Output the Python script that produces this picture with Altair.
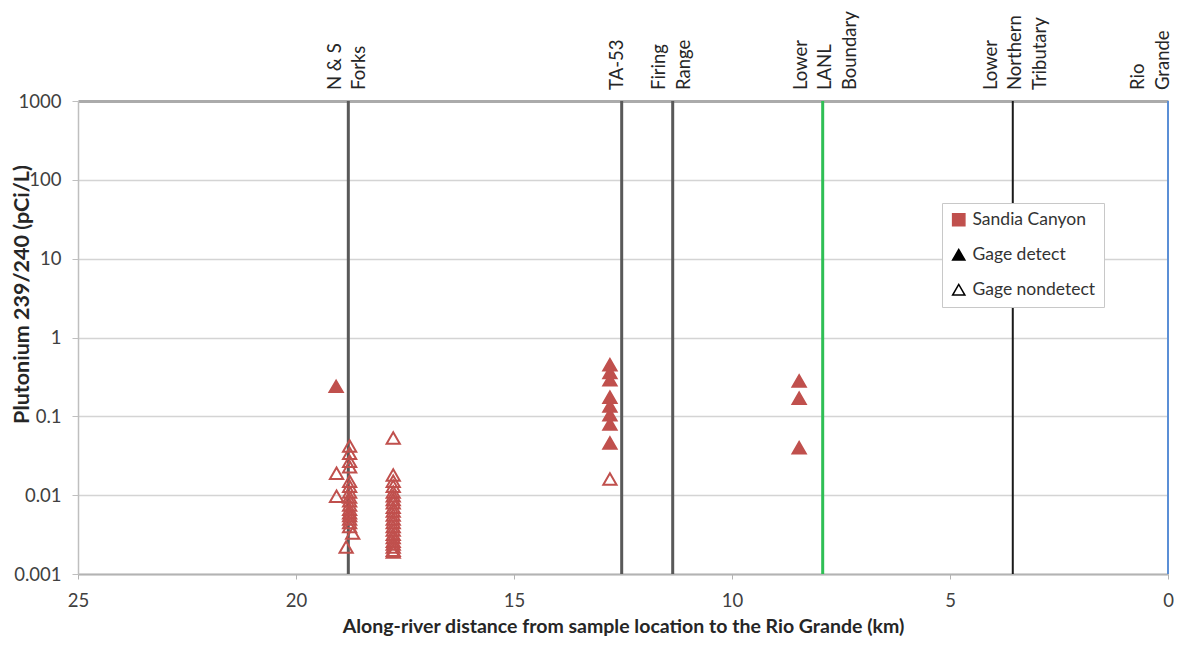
import altair as alt
import pandas as pd

# ---- data ----
detect_km = [19.08, 12.8, 12.8, 12.8, 12.8, 12.8, 12.8, 12.8, 12.8, 8.46, 8.46, 8.46]
detect_val = [0.24, 0.45, 0.36, 0.29, 0.175, 0.135, 0.105, 0.08, 0.046, 0.28, 0.17, 0.04]

nondetect_km = [19.07, 19.07,
                18.77, 18.77, 18.77, 18.77, 18.77, 18.77, 18.77, 18.77, 18.77, 18.77,
                18.77, 18.77, 18.77, 18.77, 18.77, 18.77, 18.7, 18.85,
                17.77, 17.77, 17.77, 17.77, 17.77, 17.77, 17.77, 17.77, 17.77, 17.77,
                17.77, 17.77, 17.77, 17.77, 17.77, 17.77, 17.77, 17.77, 17.77, 17.77,
                17.77, 17.77,
                12.8]
nondetect_val = [0.019, 0.0097,
                 0.042, 0.034, 0.027, 0.023, 0.015, 0.013, 0.011, 0.0095, 0.0085, 0.0075,
                 0.0066, 0.006, 0.0055, 0.005, 0.0045, 0.004, 0.0033, 0.0022,
                 0.053, 0.018, 0.015, 0.013, 0.011, 0.0098, 0.0088, 0.008, 0.007, 0.0063,
                 0.0056, 0.005, 0.0045, 0.004, 0.0036, 0.0032, 0.0029, 0.0026, 0.0024, 0.0022,
                 0.002, 0.0019,
                 0.016]

landmark_names = ["N & S\nForks", "TA-53", "Firing\nRange", "Lower\nLANL\nBoundary",
                  "Lower\nNorthern\nTributary", "Rio\nGrande"]
landmark_km = [18.8, 12.53, 11.36, 7.92, 3.56, 0.0]
landmark_colors = ["#595959", "#595959", "#595959", "#2fbf55", "#1a1a1a", "#5b8fd6"]

legend_names = ["Sandia Canyon", "Gage detect", "Gage nondetect"]
legend_shapes = ["square", "triangle-up", "triangle-up"]
legend_fills = ["#c0504d", "#000000", "#ffffff"]
legend_strokes = ["#c0504d", "#000000", "#000000"]

y_ticks = [0.001, 0.01, 0.1, 1, 10, 100, 1000]
x_ticks = [0, 5, 10, 15, 20, 25]

RED = "#c0504d"
FONT = "Lato"

pts = pd.DataFrame({
    "km": detect_km + nondetect_km,
    "val": detect_val + nondetect_val,
    "kind": ["Gage detect"] * len(detect_km) + ["Gage nondetect"] * len(nondetect_km),
})
marks = pd.DataFrame({"name": landmark_names, "km": landmark_km})
leg = pd.DataFrame({"entry": legend_names})

x_scale = alt.Scale(domain=[0, 25], reverse=True, nice=False, zero=False)
y_scale = alt.Scale(type="log", domain=[0.001, 1000], nice=False)

x_enc = alt.X("km:Q", scale=x_scale,
              axis=alt.Axis(values=x_ticks, title="Along-river distance from sample location to the Rio Grande (km)",
                            grid=False, tickSize=5, labelPadding=12, titlePadding=8, labelFlush=False,
                            domainColor="#b3b3b3", domainWidth=2, tickColor="#b3b3b3",
                            labelFontSize=18.5, titleFontSize=19.5, titleFontWeight="bold"))

rule_color = alt.Color("name:N", scale=alt.Scale(domain=landmark_names, range=landmark_colors), legend=None)

rules = alt.Chart(marks).mark_rule().encode(
    x=alt.X("km:Q", scale=x_scale),
    color=rule_color,
    strokeWidth=alt.condition(
        alt.FieldOneOfPredicate(field="name", oneOf=landmark_names[4:]),
        alt.value(2), alt.value(3)),
)


def label_layer(names, shift):
    return alt.Chart(marks).transform_filter(
        alt.FieldOneOfPredicate(field="name", oneOf=names)
    ).mark_text(angle=270, align="left", baseline="middle", lineBreak="\n", dy=shift,
                lineHeight=24.5, font=FONT, fontSize=18.5, color="#262626").encode(
        x=alt.X("km:Q", scale=x_scale), y=alt.value(-11), text="name:N")


labels_1 = label_layer([landmark_names[1]], -5)
labels_2 = label_layer([landmark_names[0], landmark_names[2]], -13.5)
labels_3 = label_layer([landmark_names[3], landmark_names[4]], -22)
labels_rio = label_layer([landmark_names[5]], -30)

points = alt.Chart(pts).mark_point(shape="triangle-up", size=175, strokeWidth=2,
                                   opacity=1, color=RED).encode(
    x=x_enc,
    y=alt.Y("val:Q", scale=y_scale,
            axis=alt.Axis(values=y_ticks, format="~g", title="Plutonium 239/240 (pCi/L)",
                          tickSize=6, labelPadding=11, tickColor="#bfbfbf",
                          domainColor="#bfbfbf", domainWidth=1.5,
                          gridColor={"condition": {"test": "datum.value == 1000", "value": "#ababab"},
                                     "value": "#d4d4d4"},
                          gridWidth={"condition": {"test": "datum.value == 1000", "value": 3},
                                     "value": 1.5},
                          labelFontSize=18.5, titleFontSize=21.5, titleFontWeight="bold",
                          titleX=-56, titleY=193, titleAlign="center", titleBaseline="middle",
                          titleAngle=270)),
    fill=alt.condition("datum.kind == 'Gage detect'", alt.value(RED), alt.value("transparent")),
    stroke=alt.value(RED),
)

legend_layer = alt.Chart(leg).transform_filter("false").mark_point(filled=True, size=150).encode(
    shape=alt.Shape("entry:N", scale=alt.Scale(domain=legend_names, range=legend_shapes),
                    legend=alt.Legend(title=None, orient="none", legendX=864, legendY=102,
                                      fillColor="white", strokeColor="#c8c8c8", padding=8,
                                      labelFont=FONT, labelFontSize=17.5, labelColor="#333333",
                                      symbolSize=150, symbolStrokeWidth=1.5, symbolOpacity=1,
                                      rowPadding=16, labelOffset=5, labelLimit=300)),
    fill=alt.Fill("entry:N", scale=alt.Scale(domain=legend_names, range=legend_fills)),
    stroke=alt.Stroke("entry:N", scale=alt.Scale(domain=legend_names, range=legend_strokes)),
)

chart = alt.layer(rules, labels_1, labels_2, labels_3, labels_rio, points, legend_layer).properties(
    width=1090, height=473,
    padding={"left": 70, "top": 93, "right": 6, "bottom": 64},
    autosize="none",
    background="white",
).configure_view(strokeWidth=0).configure_axis(
    labelFont=FONT, titleFont=FONT, labelColor="#404040", titleColor="#262626"
).configure_legend(labelFont=FONT)

chart.save("out.html", embed_options={"renderer": "svg", "actions": False})
